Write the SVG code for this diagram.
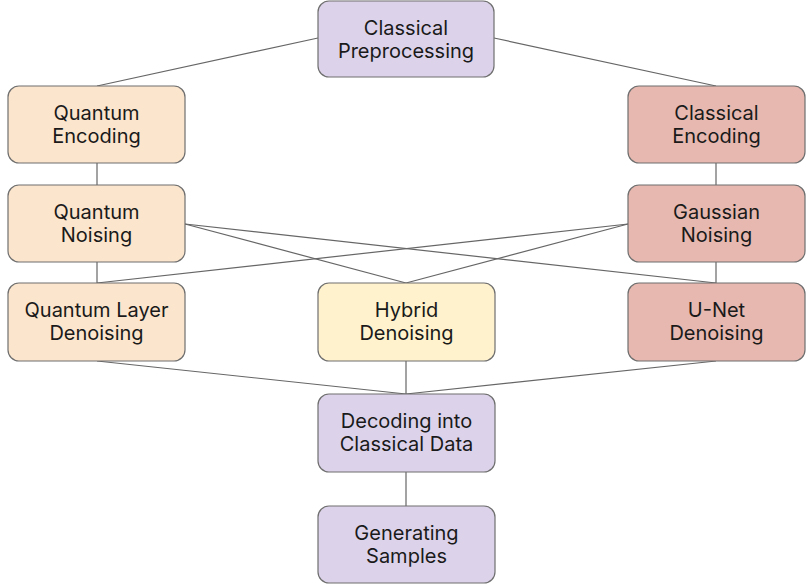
<svg xmlns="http://www.w3.org/2000/svg" width="807" height="588" viewBox="0 0 807 588">
<style>
.n rect{stroke:#6f6f6f;stroke-width:1.2}
.p{fill:#dcd3ea}.q{fill:#fce5cd}.c{fill:#e6b8af}.h{fill:#fff2cc}
.n text{font-family:Inter,"Noto Sans","Liberation Sans",sans-serif;font-size:20px;fill:#1a1a1a;text-anchor:middle}
.e line{stroke:#666;stroke-width:1.2}
</style>
<rect width="807" height="588" fill="#fff"/>
<g class="e">
<line x1="318" y1="38" x2="97" y2="86"/>
<line x1="494" y1="38" x2="716" y2="86"/>
<line x1="97" y1="163" x2="97" y2="185"/>
<line x1="716" y1="163" x2="716" y2="185"/>
<line x1="97" y1="262" x2="97" y2="283"/>
<line x1="716" y1="262" x2="716" y2="283"/>
<line x1="185" y1="224" x2="406" y2="283"/>
<line x1="185" y1="224" x2="716" y2="283"/>
<line x1="628" y1="224" x2="97" y2="283"/>
<line x1="628" y1="224" x2="406" y2="283"/>
<line x1="97" y1="361" x2="406" y2="394"/>
<line x1="406" y1="361" x2="406" y2="394"/>
<line x1="716" y1="361" x2="406" y2="394"/>
<line x1="406" y1="472" x2="406" y2="506"/>
</g>
<g id="classical-preprocessing" class="n"><rect class="p" x="318" y="1" width="176" height="76" rx="11"/><text x="406" y="35">Classical</text><text x="406" y="58">Preprocessing</text></g>
<g id="quantum-encoding" class="n"><rect class="q" x="8" y="86" width="177" height="77" rx="11"/><text x="96.5" y="120">Quantum</text><text x="96.5" y="143">Encoding</text></g>
<g id="classical-encoding" class="n"><rect class="c" x="628" y="86" width="177" height="77" rx="11"/><text x="716.5" y="120">Classical</text><text x="716.5" y="143">Encoding</text></g>
<g id="quantum-noising" class="n"><rect class="q" x="8" y="185" width="177" height="77" rx="11"/><text x="96.5" y="219">Quantum</text><text x="96.5" y="242">Noising</text></g>
<g id="gaussian-noising" class="n"><rect class="c" x="628" y="185" width="177" height="77" rx="11"/><text x="716.5" y="219">Gaussian</text><text x="716.5" y="242">Noising</text></g>
<g id="quantum-layer-denoising" class="n"><rect class="q" x="8" y="283" width="177" height="78" rx="11"/><text x="96.5" y="317">Quantum Layer</text><text x="96.5" y="340">Denoising</text></g>
<g id="hybrid-denoising" class="n"><rect class="h" x="318" y="283" width="177" height="78" rx="11"/><text x="406.5" y="317">Hybrid</text><text x="406.5" y="340">Denoising</text></g>
<g id="unet-denoising" class="n"><rect class="c" x="628" y="283" width="177" height="78" rx="11"/><text x="716.5" y="317">U-Net</text><text x="716.5" y="340">Denoising</text></g>
<g id="decoding" class="n"><rect class="p" x="318" y="394" width="177" height="78" rx="11"/><text x="406.5" y="428">Decoding into</text><text x="406.5" y="451">Classical Data</text></g>
<g id="generating-samples" class="n"><rect class="p" x="318" y="506" width="177" height="77" rx="11"/><text x="406.5" y="540">Generating</text><text x="406.5" y="563">Samples</text></g>
</svg>
